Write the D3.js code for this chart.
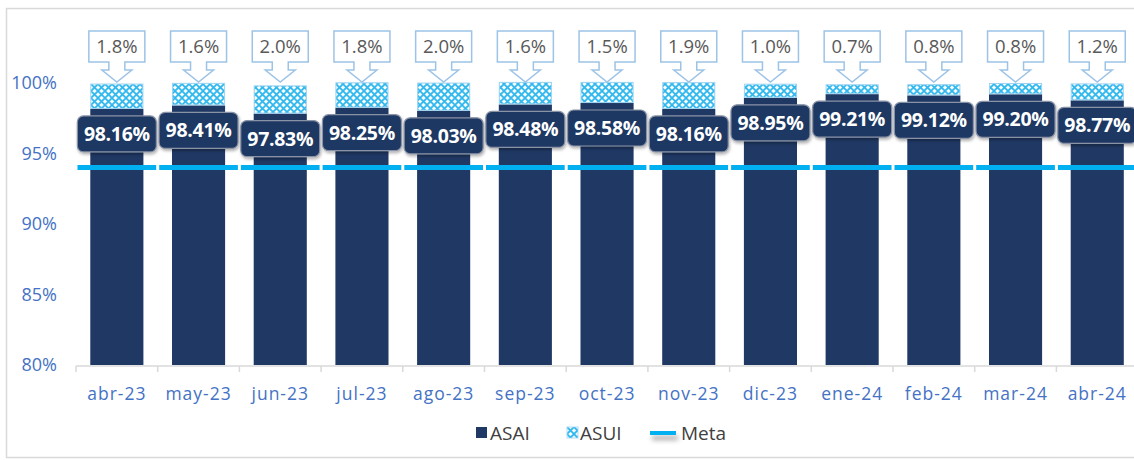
<!DOCTYPE html>
<html><head><meta charset="utf-8">
<script src="https://cdn.jsdelivr.net/npm/d3@7"></script>
<style>
html,body{margin:0;padding:0;background:#fff;}
svg{display:block;}
</style></head>
<body>
<svg id="chart" width="1134" height="460"></svg>
<script>
const months = ["abr-23","may-23","jun-23","jul-23","ago-23","sep-23","oct-23","nov-23","dic-23","ene-24","feb-24","mar-24","abr-24"];
const asai = [98.16, 98.41, 97.83, 98.25, 98.03, 98.48, 98.58, 98.16, 98.95, 99.21, 99.12, 99.20, 98.77];
const asui = [1.8, 1.6, 2.0, 1.8, 2.0, 1.6, 1.5, 1.9, 1.0, 0.7, 0.8, 0.8, 1.2];
const meta = [94, 94, 94, 94, 94, 94, 94, 94, 94, 94, 94, 94, 94];
const yTicks = [80, 85, 90, 95, 100];
const legendItems = ["ASAI", "ASUI", "Meta"];

const svg = d3.select("#chart");
const navy = "#1f3864", cyan = "#00b0f0", axisBlue = "#4472c4";

// chart frame
svg.append("rect").attr("x", 6.5).attr("y", 8.5).attr("width", 1200).attr("height", 449)
  .attr("fill", "none").attr("stroke", "#d9d9d9").attr("stroke-width", 1.5);

const defs = svg.append("defs");
const P = 7;
const pat = defs.append("pattern").attr("id", "hatch").attr("patternUnits", "userSpaceOnUse")
  .attr("width", P).attr("height", P);
pat.append("rect").attr("width", P).attr("height", P).attr("fill", "#d6f1fc");
pat.append("path").attr("d", `M0,0L${P},${P}M${P},0L0,${P}`).attr("stroke", "#2fb7ee").attr("stroke-width", 1.6);
[[P/2,0],[0,P/2],[P,P/2],[P/2,P]].forEach(([cx,cy]) =>
  pat.append("circle").attr("cx", cx).attr("cy", cy).attr("r", 1.2).attr("fill", "#ffffff"));

const mkFilter = (id, dx, dy, sd, op) => {
  const f = defs.append("filter").attr("id", id).attr("filterUnits", "userSpaceOnUse")
    .attr("x", -2000).attr("y", -2000).attr("width", 5000).attr("height", 5000);
  f.append("feDropShadow").attr("dx", dx).attr("dy", dy).attr("stdDeviation", sd)
    .attr("flood-color", "#000").attr("flood-opacity", op);
};
mkFilter("sh", 1, 2, 1.5, 0.3);
mkFilter("sh2", 2, 5, 2.5, 0.35);

const x = d3.scaleBand().domain(months).range([76, 76 + 13 * 81.7]).paddingInner(0.35).paddingOuter(0.175);
const y = d3.scaleLinear().domain([80, 100]).range([365, 83]);

// y axis labels
svg.append("g").selectAll("text").data(yTicks).join("text")
  .attr("x", 57).attr("y", d => y(d)).attr("dy", "0.35em").attr("text-anchor", "end")
  .attr("font-family", "Open Sans").attr("font-size", 18).attr("fill", axisBlue)
  .text(d => d + "%");

// x axis
const xAxisY = 366;
svg.append("line").attr("x1", 76).attr("x2", 1134).attr("y1", xAxisY).attr("y2", xAxisY)
  .attr("stroke", "#d9d9d9").attr("stroke-width", 1.5);
svg.append("g").selectAll("line").data(d3.range(months.length + 1)).join("line")
  .attr("x1", i => 76 + i * 81.7).attr("x2", i => 76 + i * 81.7)
  .attr("y1", xAxisY).attr("y2", xAxisY + 6).attr("stroke", "#d9d9d9").attr("stroke-width", 1.5);
svg.append("g").selectAll("text").data(months).join("text")
  .attr("x", d => x(d) + x.bandwidth() / 2).attr("y", 400).attr("text-anchor", "middle")
  .attr("font-family", "Open Sans").attr("font-size", 17.5).attr("letter-spacing", 1).attr("fill", axisBlue)
  .text(d => d);

const data = months.map((m, i) => ({ m, a: asai[i], u: asui[i], t: meta[i] }));

// ASAI bars
svg.append("g").selectAll("rect").data(data).join("rect")
  .attr("x", d => x(d.m)).attr("width", x.bandwidth())
  .attr("y", d => y(d.a)).attr("height", d => y(80) - y(d.a)).attr("fill", navy);

// ASUI segments
svg.append("g").selectAll("rect").data(data).join("rect")
  .attr("x", d => x(d.m) + 0.5).attr("width", x.bandwidth() - 1)
  .attr("y", d => y(d.a + d.u) + 0.5).attr("height", d => y(d.a) - y(d.a + d.u) - 1)
  .attr("fill", "url(#hatch)").attr("stroke", "#9dd3f0").attr("stroke-width", 1);

// Meta line segments
svg.append("g").selectAll("line").data(data).join("line")
  .attr("x1", d => x(d.m) - x.step() * 0.175 + 1.5)
  .attr("x2", d => x(d.m) + x.bandwidth() + x.step() * 0.175 - 1.5)
  .attr("y1", d => y(d.t)).attr("y2", d => y(d.t))
  .attr("stroke", cyan).attr("stroke-width", 5);

// ASAI labels
const lab = svg.append("g").selectAll("g").data(data).join("g")
  .attr("transform", d => `translate(${x(d.m) + x.bandwidth() / 2},${y(d.a) + 25})`);
lab.append("rect").attr("x", -39.5).attr("y", -18).attr("width", 79).attr("height", 36)
  .attr("rx", 6).attr("fill", navy).attr("stroke", "#8a93a6").attr("stroke-width", 1.2)
  .attr("filter", "url(#sh)");
lab.append("text").attr("text-anchor", "middle").attr("dy", "0.36em")
  .attr("font-family", "Open Sans").attr("font-weight", 700).attr("font-size", 19.5).attr("fill", "#fff")
  .attr("letter-spacing", -0.3)
  .text(d => d.a.toFixed(2) + "%");

// ASUI callouts
const co = svg.append("g").selectAll("g").data(data).join("g")
  .attr("transform", d => `translate(${x(d.m) + x.bandwidth() / 2},0)`);
const bt = 31, bh = 31, bw = 28, tip = 82;
co.append("path")
  .attr("d", `M${-bw},${bt}H${bw}V${bt + bh}H8V${bt + bh + 8}H15L0,${tip}L-15,${bt + bh + 8}H-8V${bt + bh}H${-bw}Z`)
  .attr("fill", "#fff").attr("stroke", "#9dc3e6").attr("stroke-width", 1.5);
co.append("text").attr("text-anchor", "middle").attr("y", bt + bh / 2).attr("dy", "0.36em")
  .attr("font-family", "Open Sans").attr("font-size", 18.5).attr("fill", "#595959")
  .text(d => d.u.toFixed(1) + "%");

// legend
const lg = svg.append("g").attr("font-family", "Open Sans").attr("font-size", 19).attr("fill", "#404040");
lg.append("rect").attr("x", 476).attr("y", 427).attr("width", 11).attr("height", 11).attr("fill", navy);
lg.append("text").attr("x", 490).attr("y", 440).text(legendItems[0]);
lg.append("rect").attr("x", 567).attr("y", 427).attr("width", 11).attr("height", 11).attr("fill", "url(#hatch)")
  .attr("stroke", "#9dd3f0").attr("stroke-width", 0.8);
lg.append("text").attr("x", 580).attr("y", 440).text(legendItems[1]);
lg.append("rect").attr("x", 650).attr("y", 431).attr("width", 26).attr("height", 4)
  .attr("fill", cyan).attr("filter", "url(#sh2)");
lg.append("text").attr("x", 681).attr("y", 440).text(legendItems[2]);
</script>
</body></html>
